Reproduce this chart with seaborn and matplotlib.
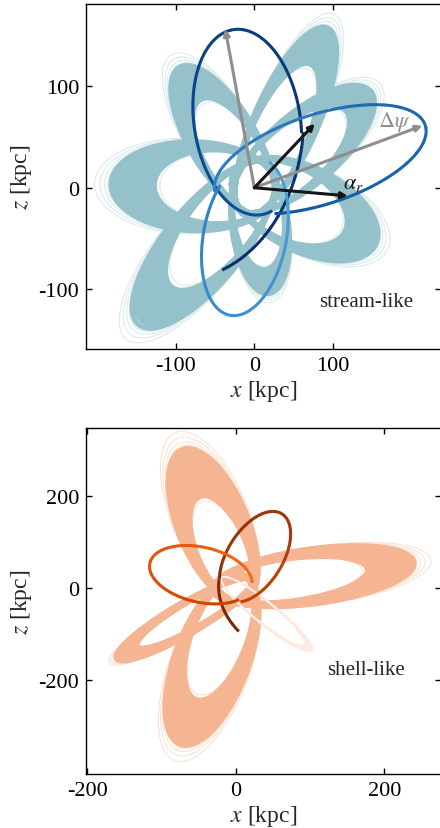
import matplotlib.pyplot as plt
import numpy as np
import seaborn as sns
from matplotlib.patches import Arc, Ellipse

# ---- stream-like panel: one entry per petal of the debris (kpc) ----
stream_apo_x = [-155, -86, 85, 135, 137, 18, -130]
stream_apo_y = [3, 100, 138, 82, -45, -92, -113]
stream_peri = [30, 30, 30, 30, 30, 28, 30]
stream_halfwidth = [40, 36, 36, 36, 40, 34, 40]
stream_spread = [0.15, 0.13, 0.11, 0.10, 0.12, 0.10, 0.14]

# progenitor orbit, split into near-elliptical loops
stream_orb_cx = [-97, -9, 84, -12]
stream_orb_cy = [69, 64.5, 28, -48]
stream_orb_a = [160, 93, 138, 80]
stream_orb_b = [160, 67, 45, 52]
stream_orb_angle = [0, 105.7, 13, 72]
stream_orb_start = [-69.5, 245.6, 209.5, 50]
stream_orb_end = [-5.5, 544, 540, 355]

# action-angle arrows from the origin
arrow_tip_x = [-37, 214, 77, 119]
arrow_tip_y = [156, 61, 63, -8]

# ---- shell-like panel ----
shell_apo_x = [-56, 208, -145, -60]
shell_apo_y = [252, 52, -142, -292]
shell_peri = [30, 30, 30, 30]
shell_halfwidth = [42, 52, 26, 45]
shell_spread = [0.18, 0.13, 0.08, 0.15]
shell_faint_apo = (96, -130)

shell_orb_cx = [167, 26, -47]
shell_orb_cy = [4, 68.5, 29.5]
shell_orb_a = [190, 102, 75.5]
shell_orb_b = [190, 40, 55.7]
shell_orb_angle = [0, 73.7, -36.8]
shell_orb_start = [210.6, 151, -10]
shell_orb_end = [175.2, -175, -337.5]

members = [-1.0, -0.85, -0.7, -0.55, -0.4, -0.25, -0.1, 0.05, 0.2, 0.35,
           0.5, 0.65, 0.8, 1.0]
halo_members = [-1.25, 1.15, 1.3, 1.5, 1.75]


def draw_petals(ax, apo_x, apo_y, peri, halfwidth, spread, core, halo, lw,
                widen, halo_lw=0.8):
    for i in range(len(apo_x)):
        r = np.hypot(apo_x[i], apo_y[i])
        ux, uy = apo_x[i] / r, apo_y[i] / r
        ang = np.degrees(np.arctan2(apo_y[i], apo_x[i]))
        px, py = -peri[i] * ux, -peri[i] * uy
        for group, color, width, z in [(halo_members, halo, halo_lw, 1),
                                       (members, core, lw, 2)]:
            for m in group:
                s = 1 + m * spread[i]
                length = (r + peri[i]) * s
                h = 2 * halfwidth[i] * (1 + widen * m * spread[i])
                ax.add_patch(Ellipse((px + ux * length / 2, py + uy * length / 2),
                                     length, h, angle=ang, fill=False,
                                     ec=color, lw=width, zorder=z))


def draw_orbit(ax, cx, cy, a, b, angle, start, end, anchors, lw=2.2):
    spans = np.abs(np.subtract(end, start))
    n_seg = np.maximum((spans / 5).astype(int), 1)
    pal = sns.blend_palette(anchors, int(n_seg.sum()))
    k = 0
    for i in range(len(cx)):
        edges = np.linspace(start[i], end[i], n_seg[i] + 1)
        for j in range(n_seg[i]):
            lo, hi = sorted((edges[j], edges[j + 1]))
            ax.add_patch(Arc((cx[i], cy[i]), 2 * a[i], 2 * b[i], angle=angle[i],
                             theta1=lo, theta2=hi + 0.4, color=pal[k], lw=lw,
                             zorder=5))
            k += 1


sns.set_theme(style='ticks')
plt.rcParams['font.family'] = ['Liberation Serif', 'DejaVu Serif']
plt.rcParams['mathtext.fontset'] = 'stix'
plt.rcParams['axes.unicode_minus'] = False
plt.rcParams.update({'xtick.direction': 'in', 'ytick.direction': 'in',
                     'xtick.top': True, 'ytick.right': True,
                     'xtick.major.size': 4, 'ytick.major.size': 4,
                     'xtick.major.width': 1, 'ytick.major.width': 1,
                     'axes.linewidth': 1, 'axes.edgecolor': 'black',
                     'xtick.color': 'black', 'ytick.color': 'black'})

fig = plt.figure(figsize=(4.4, 8.29), dpi=100)
ax1 = fig.add_axes([0.1955, 0.5778, 0.8068, 0.4165])
ax2 = fig.add_axes([0.1955, 0.0648, 0.8068, 0.4174])

# ---- top: stream-like ----
draw_petals(ax1, stream_apo_x, stream_apo_y, stream_peri, stream_halfwidth,
            stream_spread, '#95c1ca', '#dceaed', 3.4, 0.65)
draw_orbit(ax1, stream_orb_cx, stream_orb_cy, stream_orb_a, stream_orb_b,
           stream_orb_angle, stream_orb_start, stream_orb_end,
           ['#08306b', '#0a4f9a', '#2a7bc0', '#529fd8'])

arrow_colors = ['#8e8e8e', '#8e8e8e', '#151515', '#151515']
for tx, ty, c in zip(arrow_tip_x, arrow_tip_y, arrow_colors):
    ax1.annotate('', xy=(tx, ty), xytext=(0, 0), zorder=6,
                 arrowprops=dict(arrowstyle='-|>', color=c, lw=2.2,
                                 mutation_scale=9, shrinkA=0, shrinkB=0))
ax1.text(178, 66, r'$\Delta\psi$', color='#8e8e8e', fontsize=16,
         ha='center', va='center', zorder=7)
ax1.text(126, 4, r'$\alpha_r$', color='#151515', fontsize=16,
         ha='center', va='center', zorder=7)
ax1.text(0.79, 0.139, 'stream-like', transform=ax1.transAxes, fontsize=15,
         ha='center', va='center')

ax1.set_xlim(-214.4, 237.8)
ax1.set_ylim(-158.6, 181)
ax1.set_xticks([-100, 0, 100])
ax1.set_yticks([-100, 0, 100])

# ---- bottom: shell-like ----
draw_petals(ax2, shell_apo_x, shell_apo_y, shell_peri, shell_halfwidth,
            shell_spread, '#f5b593', '#fce2d4', 4.2, 0.9)
draw_petals(ax2, [shell_faint_apo[0]], [shell_faint_apo[1]], [30], [18], [0.04],
            '#fcebe1', '#fef6f1', 0.9, 1.0, halo_lw=0.6)
draw_orbit(ax2, shell_orb_cx, shell_orb_cy, shell_orb_a, shell_orb_b,
           shell_orb_angle, shell_orb_start, shell_orb_end,
           ['#7f2704', '#a63603', '#d94801', '#f26b16'])
ax2.text(0.789, 0.304, 'shell-like', transform=ax2.transAxes, fontsize=15,
         ha='center', va='center')

ax2.set_xlim(-201.5, 276.3)
ax2.set_ylim(-404.3, 347.8)
ax2.set_xticks([-200, 0, 200])
ax2.set_yticks([-200, 0, 200])

for ax in (ax1, ax2):
    ax.set_xlabel('$x$ [kpc]', fontsize=17, labelpad=2)
    ax.set_ylabel('$z$ [kpc]', fontsize=17, labelpad=3)
    ax.tick_params(labelsize=16, pad=5)

fig.savefig('out.png', dpi=100)
plt.close(fig)
